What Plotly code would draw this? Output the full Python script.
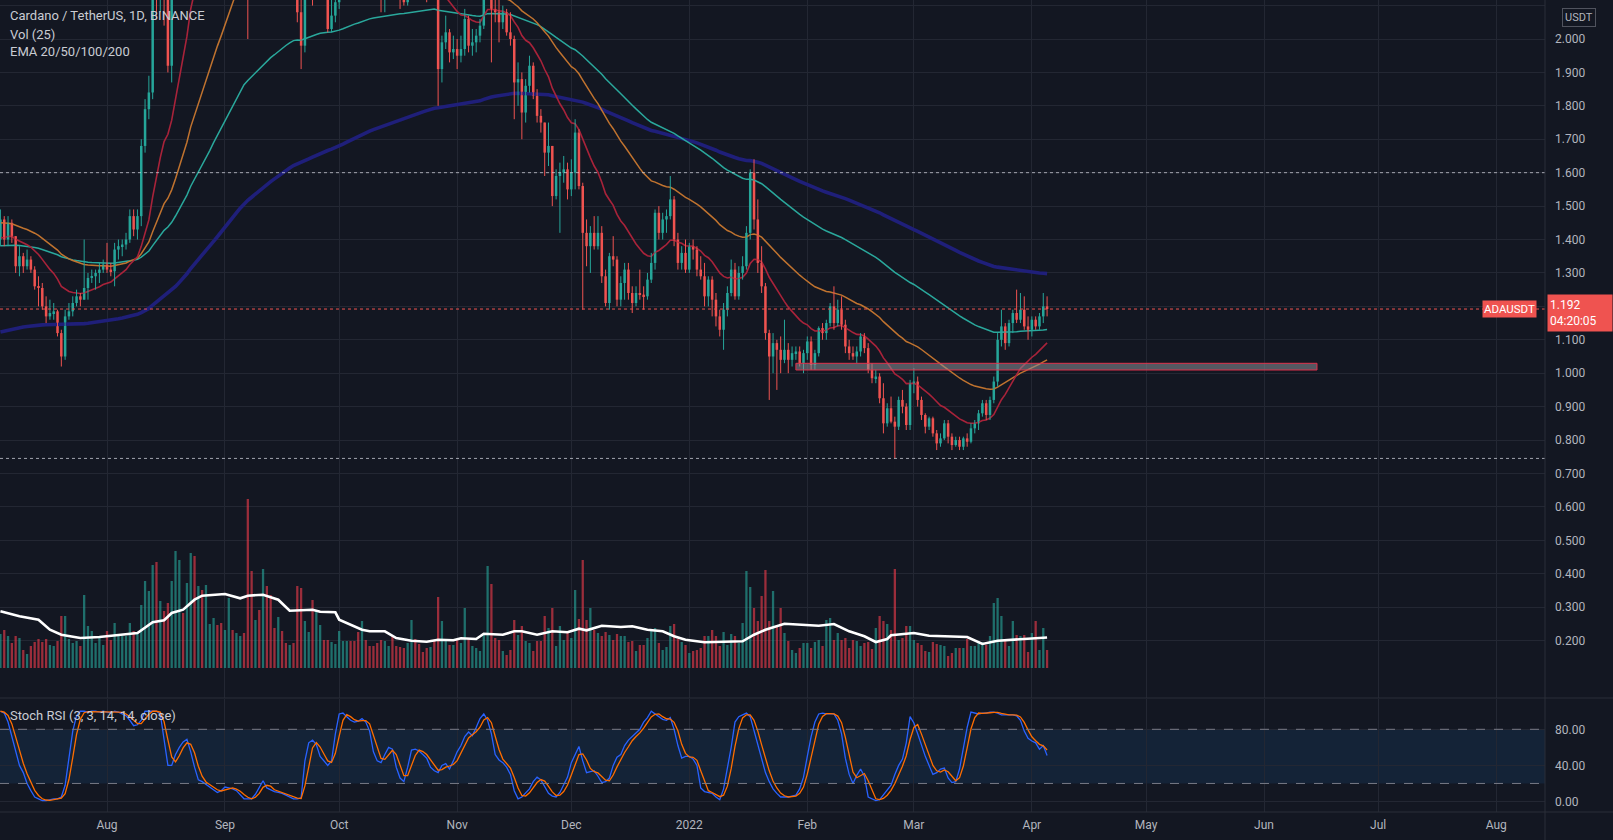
import pandas as pd
import plotly.graph_objects as go

# ---------------- data ----------------
START = "2021-07-04"          # first daily candle
FIRST_OPEN = 1.40
EMA_SEEDS = {20: 1.40, 50: 1.45, 100: 1.38, 200: 1.12}   # EMA values just before the first candle

close_jul = [1.46,1.40,1.45,1.41,1.32,1.35,1.32,1.34,1.31,1.26, 1.255,1.20,1.17,1.18,1.185,1.12,1.05,1.17,1.185,1.21, 1.23,1.22,1.255,1.285,1.29,1.30,1.31,1.325]
high_jul  = [1.49,1.47,1.47,1.46,1.41,1.38,1.36,1.37,1.35,1.32, 1.29,1.27,1.23,1.22,1.21,1.19,1.13,1.19,1.21,1.23, 1.25,1.24,1.40,1.30,1.31,1.31,1.33,1.34]
low_jul   = [1.38,1.38,1.38,1.39,1.30,1.29,1.30,1.31,1.30,1.25, 1.20,1.19,1.15,1.16,1.16,1.11,1.02,1.04,1.16,1.17, 1.20,1.20,1.22,1.22,1.27,1.25,1.27,1.30]

close_aug = [1.31,1.305,1.37,1.38,1.385,1.40,1.47,1.43,1.47,1.68, 1.79,1.84,2.18,2.16,2.19,2.15,1.92,2.16,2.40,2.50, 2.49,2.64,2.87,2.63,2.68,2.56,2.72,2.81,2.87,2.77, 2.76]
high_aug  = [1.39,1.33,1.39,1.40,1.40,1.42,1.49,1.49,1.49,1.70, 1.82,1.89,2.20,2.25,2.22,2.23,2.17,2.23,2.45,2.55, 2.58,2.70,2.95,2.94,2.74,2.72,2.80,2.88,2.96,2.89, 2.82]
low_aug   = [1.30,1.29,1.26,1.34,1.35,1.37,1.39,1.41,1.40,1.44, 1.66,1.76,1.82,2.06,2.08,2.04,1.90,1.87,2.15,2.36, 2.42,2.43,2.63,2.56,2.55,2.53,2.53,2.70,2.80,2.74, 2.65]

close_sep = [2.86,2.98,2.86,2.87,2.92,2.86,2.50,2.45,2.52,2.42, 2.56,2.52,2.42,2.38,2.46,2.44,2.38,2.39,2.32,2.08, 1.98,2.22,2.24,2.19,2.21,2.22,2.13,2.03,2.07,2.11]
high_sep  = [2.95,3.10,3.05,2.92,2.96,2.95,2.88,2.57,2.58,2.62, 2.60,2.84,2.53,2.46,2.49,2.52,2.46,2.43,2.42,2.33, 2.18,2.25,2.30,2.28,2.25,2.30,2.28,2.18,2.13,2.15]
low_sep   = [2.73,2.83,2.82,2.80,2.82,2.78,2.00,2.31,2.42,2.36, 2.40,2.49,2.32,2.35,2.34,2.40,2.30,2.35,2.29,2.05, 1.91,1.96,2.16,2.10,2.12,2.14,2.12,2.02,2.02,2.05]

close_oct = [2.22,2.24,2.28,2.27,2.25,2.22,2.28,2.26,2.24,2.18, 2.16,2.14,2.17,2.20,2.19,2.15,2.12,2.11,2.16,2.20, 2.19,2.18,2.17,2.15,2.17,2.13,1.91,1.99,2.02,1.96, 1.97]
high_oct  = [2.26,2.28,2.31,2.32,2.29,2.27,2.32,2.31,2.28,2.26, 2.21,2.19,2.19,2.23,2.23,2.22,2.17,2.17,2.19,2.23, 2.26,2.24,2.21,2.19,2.22,2.20,2.15,2.01,2.07,2.03, 2.01]
low_oct   = [2.09,2.18,2.21,2.20,2.18,2.12,2.20,2.20,2.21,2.15, 2.13,2.08,2.08,2.13,2.13,2.13,2.09,2.10,2.10,2.12, 2.13,2.15,2.15,2.11,2.14,2.12,1.80,1.87,1.97,1.93, 1.94]

close_nov = [1.95,1.97,2.06,1.98,1.99,2.01,2.04,2.25,2.27,2.09, 2.08,2.05,2.08,2.02,2.00,1.87,1.88,1.78,1.86,1.92, 1.83,1.77,1.75,1.66,1.68,1.53,1.59,1.60,1.61,1.55]
high_nov  = [2.00,2.01,2.09,2.07,2.03,2.03,2.06,2.29,2.32,2.30, 2.14,2.12,2.10,2.09,2.08,2.01,1.93,1.90,1.88,1.95, 1.93,1.85,1.79,1.75,1.75,1.68,1.61,1.63,1.65,1.63]
low_nov   = [1.91,1.93,1.95,1.96,1.95,1.96,1.99,2.03,2.21,1.93, 2.05,1.99,2.03,2.01,1.98,1.76,1.80,1.70,1.75,1.84, 1.82,1.75,1.72,1.59,1.62,1.50,1.52,1.42,1.57,1.52]

close_dec = [1.60,1.72,1.56,1.42,1.38,1.42,1.38,1.42,1.29,1.21, 1.35,1.34,1.22,1.27,1.31,1.24,1.21,1.24,1.235,1.23, 1.28,1.33,1.48,1.42,1.46,1.47,1.52,1.40,1.33,1.36, 1.31]
high_dec  = [1.64,1.76,1.73,1.57,1.46,1.44,1.47,1.47,1.44,1.31, 1.36,1.41,1.35,1.29,1.33,1.33,1.26,1.26,1.31,1.26, 1.30,1.36,1.49,1.50,1.48,1.49,1.59,1.53,1.42,1.38, 1.40]
low_dec   = [1.53,1.55,1.55,1.19,1.32,1.30,1.37,1.37,1.27,1.20, 1.19,1.32,1.20,1.20,1.22,1.22,1.18,1.20,1.22,1.19, 1.22,1.27,1.31,1.40,1.40,1.42,1.46,1.38,1.31,1.31, 1.30]

close_jan = [1.38,1.37,1.31,1.29,1.23,1.28,1.22,1.17,1.13,1.19, 1.24,1.31,1.23,1.30,1.32,1.42,1.60,1.46,1.33,1.26, 1.12,1.05,1.09,1.07,1.04,1.07,1.04,1.06,1.065,1.03, 1.06]
high_jan  = [1.39,1.40,1.38,1.35,1.33,1.29,1.29,1.24,1.19,1.21, 1.26,1.34,1.33,1.32,1.35,1.44,1.61,1.64,1.52,1.38, 1.27,1.13,1.12,1.10,1.11,1.16,1.09,1.08,1.08,1.08, 1.07]
low_jan   = [1.30,1.34,1.29,1.28,1.20,1.20,1.17,1.14,1.11,1.07, 1.17,1.23,1.22,1.22,1.28,1.31,1.40,1.43,1.30,1.24, 1.10,0.92,1.00,0.95,1.00,1.03,1.00,1.02,1.04,1.02, 1.00]

close_feb = [1.095,1.025,1.06,1.135,1.12,1.15,1.20,1.15,1.19,1.145, 1.08,1.06,1.05,1.065,1.11,1.075,1.01,0.985,0.99,0.925, 0.85,0.895,0.855,0.84,0.92,0.90,0.845,0.97]
high_feb  = [1.11,1.11,1.07,1.14,1.15,1.16,1.21,1.26,1.22,1.23, 1.16,1.10,1.08,1.08,1.12,1.12,1.09,1.03,1.01,1.00, 0.97,0.91,0.93,0.87,0.93,0.95,0.91,0.98]
low_feb   = [1.04,1.01,1.01,1.05,1.10,1.10,1.14,1.13,1.14,1.13, 1.06,1.04,1.04,1.03,1.05,1.06,1.00,0.97,0.97,0.91, 0.82,0.84,0.85,0.745,0.83,0.88,0.83,0.83]

close_mar = [0.975,0.92,0.875,0.84,0.865,0.82,0.79,0.805,0.85,0.81, 0.785,0.80,0.78,0.805,0.795,0.835,0.85,0.88,0.91,0.875, 0.92,0.975,1.10,1.14,1.09,1.15,1.18,1.16,1.19,1.14, 1.13]
high_mar  = [1.015,0.99,0.93,0.88,0.87,0.87,0.83,0.82,0.86,0.86, 0.82,0.81,0.81,0.81,0.82,0.85,0.86,0.89,0.92,0.92, 0.93,0.99,1.12,1.19,1.15,1.16,1.19,1.25,1.24,1.23, 1.17]
low_mar   = [0.94,0.90,0.86,0.82,0.83,0.81,0.77,0.78,0.80,0.79, 0.77,0.78,0.77,0.77,0.78,0.79,0.82,0.83,0.87,0.86, 0.86,0.91,0.96,1.08,1.07,1.08,1.12,1.15,1.15,1.13, 1.10]

close_apr = [1.16,1.14,1.17,1.20,1.192]
high_apr  = [1.17,1.17,1.18,1.24,1.23]
low_apr   = [1.11,1.13,1.13,1.15,1.17]

# volume (relative units)
vol_jul = [34,38,32,25,32,30,18,14,22,26, 29,26,29,23,22,27,52,52,29,25, 27,22,73,42,37,25,32,23]
vol_aug = [37,28,45,32,32,32,45,37,35,63, 87,77,103,106,67,57,65,87,117,108, 55,85,115,112,82,78,83,44,50,43, 45]
vol_sep = [38,70,38,35,32,35,169,97,48,58, 99,82,73,40,51,37,25,23,25,82, 80,47,36,68,57,43,28,28,26,24]
vol_oct = [37,27,27,27,27,36,47,28,22,22, 25,28,27,22,32,22,21,20,25,48, 29,24,16,20,21,27,71,47,28,23, 23]
vol_nov = [28,25,60,30,22,20,17,35,102,84, 30,28,17,13,18,48,33,42,27,25, 17,27,27,52,40,60,22,42,28,35]
vol_dec = [30,78,49,108,48,60,38,35,32,36, 33,28,34,32,32,26,27,17,23,23, 30,37,40,25,18,21,42,44,29,26, 23]
vol_jan = [15,17,18,20,32,32,38,32,22,36, 23,34,32,25,45,97,81,60,47,72, 98,47,77,43,60,35,27,18,15,20, 25]
vol_feb = [25,20,26,28,22,48,50,28,35,28, 30,20,28,27,22,25,26,19,40,52, 47,44,38,99,28,30,42,42]
vol_mar = [28,25,23,17,16,26,24,23,22,12, 15,20,20,20,29,22,22,27,26,23, 32,65,70,52,28,22,47,33,32,33, 16]
vol_apr = [35,47,18,40,18]

# volume moving average (read), day offset from START
vma_day = [0,5,10,13,16,21,26,31,36,40,43,45,48,51,53,59,63,65,69,73,76,82,84,88,89,95,97,101,104,108,112,115,119,121,125,127,132,135,137,141,145,149,152,154,158,163,166,170,174,177,180,185,190,195,198,201,206,210,215,219,223,227,230,233,234,240,244,254,258,262,268,271,275]
vma_val = [56.7,51.7,48.3,38.3,33.3,30,31,32.7,35,45.7,47.7,55,58.3,68.3,72.3,74,69.7,72.3,73.3,68.3,57.3,58.3,56.3,55.7,48.3,38.3,36.7,36.7,30,27.3,26.3,28.3,27.7,29.7,29,34.3,33.3,36.7,36.7,33.3,36.7,35.7,39.3,37.7,42.3,41,41.7,38.3,36.7,31.7,28.3,25.7,26.3,26.7,33.3,38.3,44.3,43.3,42.3,44,36.7,31.7,26,29,32.7,35,32.3,31,24,27.3,28.7,29.7,30.5]

# Stoch RSI %K (read)
k_jul = [100,98,88,72,55,40,32,20,12,5, 3,1,1,2,3,3,5,18,50,78, 95,100,100,99,100,100,99,100]
k_aug = [99,98,100,99,97,95,90,84,85,90, 100,100,100,100,97,68,40,40,52,60, 66,69,55,38,24,22,19,16,13,10, 12]
k_sep = [16,15,14,12,8,3,3,3,8,16, 23,15,13,11,10,9,7,5,3,3, 4,45,65,68,63,50,45,40,45,75]
k_oct = [97,98,94,90,88,89,92,88,78,55, 45,43,52,60,58,38,26,22,38,57, 58,56,52,48,38,34,32,40,42,36, 45]
k_nov = [55,62,72,77,73,82,92,97,90,75, 52,46,43,38,30,12,3,5,10,14, 22,27,24,17,9,6,5,10,18,27]
k_dec = [43,52,61,45,32,33,34,28,21,22, 26,40,49,52,62,68,72,76,80,88, 93,100,97,94,91,90,93,80,62,48, 50]
k_jan = [50,47,40,15,11,10,9,5,2,14, 35,60,88,94,96,98,94,78,62,48, 32,22,14,9,5,5,5,6,7,14, 27]
k_feb = [50,72,88,97,98,97,97,97,90,75, 48,30,20,29,36,28,5,3,1,2, 7,12,18,30,40,47,65,94]
k_mar = [87,75,62,50,40,30,32,36,37,26, 21,22,36,60,82,99,98,97,98,98, 99,99,98,96,96,96,96,95,90,78, 70]
k_apr = [67,65,58,62,51]

month_ticks = ["2021-08-01","2021-09-01","2021-10-01","2021-11-01","2021-12-01","2022-01-01",
               "2022-02-01","2022-03-01","2022-04-01","2022-05-01","2022-06-01","2022-07-01","2022-08-01"]
month_text = ["Aug","Sep","Oct","Nov","Dec","2022","Feb","Mar","Apr","May","Jun","Jul","Aug"]
price_ticks = [round(0.2 + 0.1 * k, 1) for k in range(20)]
hidden_price_labels = [1.2]       # covered by the last-price badge in the reference
stoch_ticks = [0, 40, 80]

ZONE = dict(x0="2022-01-29", x1="2022-06-14 22:00", y0=1.0096, y1=1.0296)
LEVELS = [1.600, 0.745]
LAST_PRICE = 1.192

# ---------------- assemble ----------------
closes = close_jul + close_aug + close_sep + close_oct + close_nov + close_dec + close_jan + close_feb + close_mar + close_apr
highs = high_jul + high_aug + high_sep + high_oct + high_nov + high_dec + high_jan + high_feb + high_mar + high_apr
lows = low_jul + low_aug + low_sep + low_oct + low_nov + low_dec + low_jan + low_feb + low_mar + low_apr
vols = vol_jul + vol_aug + vol_sep + vol_oct + vol_nov + vol_dec + vol_jan + vol_feb + vol_mar + vol_apr
stoch_k = k_jul + k_aug + k_sep + k_oct + k_nov + k_dec + k_jan + k_feb + k_mar + k_apr

n = min(len(closes), len(highs), len(lows), len(vols), len(stoch_k))
closes, highs, lows, vols, stoch_k = closes[:n], highs[:n], lows[:n], vols[:n], stoch_k[:n]
dates = pd.date_range(START, periods=n, freq="D")
opens = [FIRST_OPEN] + closes[:-1]


def ema(vals, span, seed):
    a = 2.0 / (span + 1)
    out, e = [], seed
    for v in vals:
        e = e + a * (v - e)
        out.append(e)
    return out


def sma(vals, w):
    out = []
    for i in range(len(vals)):
        seg = vals[max(0, i - w + 1): i + 1]
        out.append(sum(seg) / len(seg))
    return out


stoch_d = sma(stoch_k, 3)

UP, DN = "#26a69a", "#ef5350"
BG = "#131722"
GRID = "#232733"
AXIS_TXT = "#b2b5be"
FONT = "Roboto"

is_up = [c >= o for o, c in zip(opens, closes)]
DAY_MS = 86400000

fig = go.Figure()

# volume
fig.add_trace(go.Bar(
    x=dates, y=vols, xaxis="x2", yaxis="y2", width=0.6 * DAY_MS,
    marker=dict(color=["rgba(38,166,154,0.62)" if u else "rgba(239,60,75,0.62)" for u in is_up], line=dict(width=0)),
    hoverinfo="skip", showlegend=False))
fig.add_trace(go.Scatter(
    x=[pd.Timestamp(START) + pd.Timedelta(days=d) for d in vma_day], y=vma_val,
    xaxis="x2", yaxis="y2", mode="lines", line=dict(color="#ffffff", width=2.6),
    hoverinfo="skip", showlegend=False))

# EMAs
ema_styles = {200: ("#1f1f7a", 3.6), 100: ("#2aa89c", 1.5), 50: ("#c0732f", 1.5), 20: ("#a8233a", 1.6)}
for span in (200, 100, 50, 20):
    col, w = ema_styles[span]
    fig.add_trace(go.Scatter(x=dates, y=ema(closes, span, EMA_SEEDS[span]), xaxis="x2", yaxis="y",
                             mode="lines", line=dict(color=col, width=w), hoverinfo="skip", showlegend=False))

# candle wicks
for flag, col in ((True, UP), (False, DN)):
    xs, ys = [], []
    for d, h, l, u in zip(dates, highs, lows, is_up):
        if u == flag:
            xs += [d, d, None]
            ys += [l, h, None]
    fig.add_trace(go.Scatter(x=xs, y=ys, xaxis="x2", yaxis="y", mode="lines",
                             line=dict(color=col, width=1), hoverinfo="skip", showlegend=False))

# candle bodies
fig.add_trace(go.Bar(
    x=dates, y=[max(abs(c - o), 0.004) for o, c in zip(opens, closes)],
    base=[min(o, c) for o, c in zip(opens, closes)], xaxis="x2", yaxis="y", width=0.66 * DAY_MS,
    marker=dict(color=[UP if u else DN for u in is_up], line=dict(width=0)),
    hoverinfo="skip", showlegend=False))

# stoch RSI
fig.add_trace(go.Scatter(x=dates, y=stoch_k, xaxis="x", yaxis="y3", mode="lines",
                         line=dict(color="#2962ff", width=1.3), hoverinfo="skip", showlegend=False))
fig.add_trace(go.Scatter(x=dates, y=stoch_d, xaxis="x", yaxis="y3", mode="lines",
                         line=dict(color="#ff6d00", width=1.3), hoverinfo="skip", showlegend=False))

# ---------------- layout ----------------
W, H = 1613, 840
MR, MB = 68, 28
PW, PH = W - MR, H - MB          # plot area in px
PX_PER_DAY = 3.806
AUG1_PX = 107
PX_PER_UNIT = 334.2
ONE_PX = 373.2                    # pixel row of price 1.000
MAIN_BOTTOM = 698
STOCH_TOP = 699
VOL_BASE = 668
ST_ZERO, ST_PX = 801.5, 0.9025


def px(x):
    return x / PW


def py(y):
    return 1 - y / PH


def price_at(row):
    return 1 + (ONE_PX - row) / PX_PER_UNIT


x_start = pd.Timestamp("2021-08-01") - pd.Timedelta(days=AUG1_PX / PX_PER_DAY)
x_end = x_start + pd.Timedelta(days=PW / PX_PER_DAY)

tickfont = dict(family=FONT, size=12, color=AXIS_TXT)

fig.update_layout(
    width=W, height=H, margin=dict(l=0, r=MR, t=0, b=MB),
    paper_bgcolor=BG, plot_bgcolor=BG, barmode="overlay", hovermode=False, showlegend=False,
    font=dict(family=FONT, color=AXIS_TXT),
    xaxis=dict(anchor="y3", domain=[0, 1], range=[x_start, x_end], tickvals=month_ticks, ticktext=month_text,
               showgrid=True, gridcolor=GRID, gridwidth=1, zeroline=False, showline=False, ticks="",
               tickfont=tickfont, ticklabelstandoff=4),
    xaxis2=dict(anchor="y", domain=[0, 1], matches="x", tickvals=month_ticks, showticklabels=False,
                showgrid=True, gridcolor=GRID, gridwidth=1, zeroline=False, showline=False, ticks=""),
    yaxis=dict(anchor="x2", domain=[1 - MAIN_BOTTOM / PH, 1], range=[price_at(MAIN_BOTTOM), price_at(0)],
               side="right", tickvals=price_ticks,
               ticktext=["" if v in hidden_price_labels else f"{v:.3f}" for v in price_ticks],
               showgrid=True, gridcolor=GRID, zeroline=False, showline=False, ticks="",
               tickfont=tickfont, ticklabelstandoff=9),
    yaxis2=dict(anchor="x2", overlaying="y", range=[-(MAIN_BOTTOM - VOL_BASE), VOL_BASE], visible=False),
    yaxis3=dict(anchor="x", domain=[0, 1 - STOCH_TOP / PH],
                range=[-(PH - ST_ZERO) / ST_PX, (ST_ZERO - STOCH_TOP) / ST_PX],
                side="right", tickvals=stoch_ticks, ticktext=[f"{v:.2f}" for v in stoch_ticks],
                showgrid=True, gridcolor=GRID, zeroline=False, showline=False, ticks="",
                tickfont=tickfont, ticklabelstandoff=9),
)

shapes = []
# stoch band + bounds
shapes.append(dict(type="rect", xref="paper", yref="y3", x0=0, x1=1, y0=20, y1=80,
                   fillcolor="rgba(33,150,243,0.10)", line=dict(width=0), layer="below"))
for lv in (20, 80):
    shapes.append(dict(type="line", xref="paper", yref="y3", x0=0, x1=1, y0=lv, y1=lv,
                       line=dict(color="#787b86", width=1, dash="dash")))
# horizontal levels
for lv in LEVELS:
    shapes.append(dict(type="line", xref="paper", yref="y", x0=0, x1=1, y0=lv, y1=lv,
                       line=dict(color="rgba(210,212,220,0.75)", width=1, dash="dot")))
shapes.append(dict(type="line", xref="paper", yref="y", x0=0, x1=1, y0=LAST_PRICE, y1=LAST_PRICE,
                   line=dict(color="#ef5350", width=1, dash="dot")))
# zone rectangle
shapes.append(dict(type="rect", xref="x2", yref="y", x0=ZONE["x0"], x1=ZONE["x1"], y0=ZONE["y0"], y1=ZONE["y1"],
                   fillcolor="rgba(140,142,152,0.55)", line=dict(color="#e0314b", width=1), layer="above"))
# pane separators / axis borders
SEP = "#2a2e39"
shapes.append(dict(type="line", xref="paper", yref="paper", x0=0, x1=W / PW, y0=py(MAIN_BOTTOM), y1=py(MAIN_BOTTOM),
                   line=dict(color=SEP, width=1)))
shapes.append(dict(type="line", xref="paper", yref="paper", x0=0, x1=W / PW, y0=0, y1=0,
                   line=dict(color=SEP, width=1)))
shapes.append(dict(type="line", xref="paper", yref="paper", x0=1, x1=1, y0=-MB / PH, y1=1,
                   line=dict(color=SEP, width=1)))
fig.update_layout(shapes=shapes)


def ann(text, x, y, **kw):
    d = dict(text=text, x=px(x), y=py(y), xref="paper", yref="paper", showarrow=False)
    d.update(kw)
    return d


LEG = dict(family=FONT, size=13, color="#c9ccd3")
annotations = [
    ann("Cardano / TetherUS, 1D, BINANCE", 8, 16, xanchor="left", yanchor="middle", font=LEG),
    ann("Vol (25)", 8, 34, xanchor="left", yanchor="middle", font=LEG),
    ann("EMA 20/50/100/200", 8, 51, xanchor="left", yanchor="middle", font=LEG),
    ann("Stoch RSI (3, 3, 14, 14, close)", 8, 715, xanchor="left", yanchor="middle", font=LEG),
    ann("USDT", 1579, 17, xanchor="center", yanchor="middle", bgcolor=BG, bordercolor="#50535e",
        borderwidth=1, borderpad=2, font=dict(family=FONT, size=11, color=AXIS_TXT)),
    ann("ADAUSDT", 1509, 308.5, xanchor="center", yanchor="middle", bgcolor="#ef5350", borderpad=1,
        font=dict(family=FONT, size=11.5, color="#ffffff")),
    ann(f"{LAST_PRICE:.3f}<br>04:20:05", 1547, 313, xanchor="left", yanchor="middle", bgcolor="#ef5350",
        width=60, height=32, align="left", borderpad=2, font=dict(family=FONT, size=12, color="#ffffff")),
]
fig.update_layout(annotations=annotations)

fig.write_html("out.html", config={"displayModeBar": False},
               post_script="document.body.style.margin='0';document.body.style.overflow='hidden';")
